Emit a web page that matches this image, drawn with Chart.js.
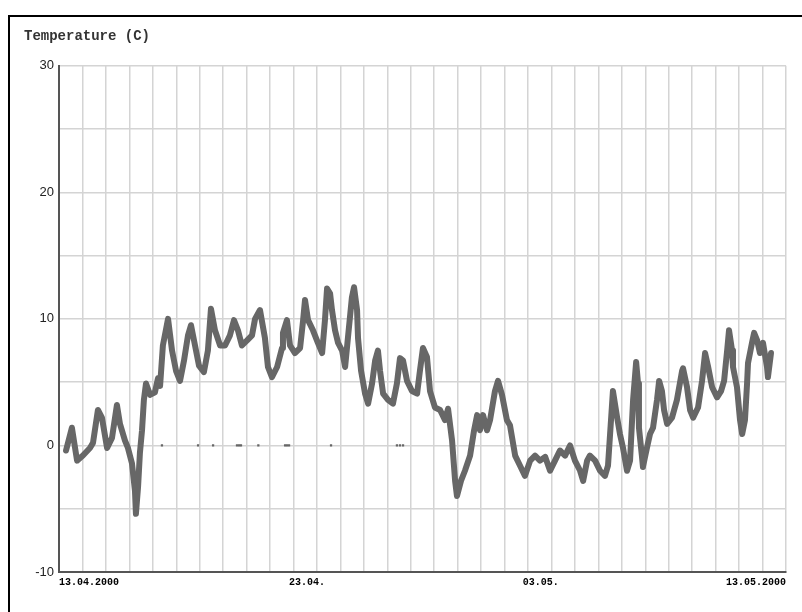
<!DOCTYPE html>
<html>
<head>
<meta charset="utf-8">
<script src="https://cdn.jsdelivr.net/npm/chart.js@4/dist/chart.umd.min.js"></script>
<style>
  html, body { margin: 0; padding: 0; background: #fff; overflow: hidden; }
  #frame { position: absolute; left: 8px; top: 15px; width: 900px; height: 700px; border: 2px solid #000; box-sizing: border-box; }
  #temp-chart { position: absolute; left: 0; top: 0; }
</style>
</head>
<body>
<div id="frame"></div>
<canvas id="temp-chart" width="802" height="612"></canvas>
<script>
// days since 13.04.2000 00:00 and temperature readings (C)
const tempDays = [
  0.30, 0.55, 0.77, 1.02, 1.32, 1.45, 1.66, 1.83, 2.05, 2.26, 2.47, 2.60, 2.81, 2.94, 3.11, 3.24, 3.28, 3.37, 3.45, 3.54,
  3.62, 3.71, 3.88, 4.09, 4.22, 4.31, 4.43, 4.65, 4.82, 4.99, 5.16, 5.33, 5.50, 5.63, 5.80, 5.97, 6.18, 6.35, 6.48, 6.65,
  6.87, 7.08, 7.29, 7.46, 7.63, 7.80, 8.02, 8.23, 8.36, 8.57, 8.78, 8.91, 9.08, 9.30, 9.51, 9.55, 9.72, 9.85, 10.06, 10.28,
  10.41, 10.49, 10.62, 10.83, 11.04, 11.22, 11.34, 11.43, 11.56, 11.64, 11.77, 11.90, 12.07, 12.20, 12.32, 12.49, 12.58, 12.71, 12.75, 12.88,
  13.05, 13.18, 13.35, 13.48, 13.60, 13.69, 13.82, 14.03, 14.24, 14.41, 14.54, 14.67, 14.84, 15.05, 15.27, 15.39, 15.52, 15.69, 15.82, 16.03,
  16.25, 16.46, 16.59, 16.76, 16.89, 16.97, 17.14, 17.31, 17.53, 17.70, 17.83, 17.95, 18.08, 18.25, 18.38, 18.59, 18.72, 18.89, 19.10, 19.23,
  19.45, 19.66, 19.87, 20.09, 20.30, 20.51, 20.73, 20.94, 21.15, 21.36, 21.58, 21.79, 22.00, 22.22, 22.35, 22.52, 22.64, 22.86, 23.07, 23.28,
  23.41, 23.62, 23.80, 23.92, 24.05, 24.22, 24.35, 24.48, 24.61, 24.69, 24.73, 24.86, 24.90, 25.07, 25.20, 25.33, 25.50, 25.59, 25.71, 25.80,
  25.93, 26.14, 26.35, 26.57, 26.61, 26.78, 26.91, 27.04, 27.25, 27.42, 27.55, 27.68, 27.85, 28.06, 28.23, 28.36, 28.49, 28.57, 28.70, 28.74,
  28.91, 29.04, 29.13, 29.25, 29.34, 29.38, 29.55, 29.64, 29.77, 29.89, 30.02, 30.19, 30.23, 30.36
];
const tempValues = [
  -0.4, 1.4, -1.2, -0.8, -0.2, 0.2, 2.8, 2.2, -0.2, 0.6, 3.2, 1.7, 0.4, -0.2, -1.4, -3.6, -5.4, -3.3, -0.6, 1.2,
  3.6, 4.9, 4.0, 4.2, 5.3, 4.7, 7.9, 10.0, 7.5, 5.9, 5.1, 6.7, 8.7, 9.5, 7.9, 6.3, 5.8, 7.5, 10.8, 9.1,
  7.9, 7.9, 8.7, 9.9, 9.1, 7.9, 8.3, 8.7, 10.0, 10.7, 8.5, 6.2, 5.4, 6.2, 7.7, 8.9, 9.9, 7.9, 7.3, 7.7,
  9.9, 11.5, 9.9, 9.1, 8.1, 7.3, 9.9, 12.4, 12.0, 10.7, 9.1, 8.1, 7.5, 6.2, 8.5, 11.7, 12.5, 10.7, 8.5, 5.9,
  4.1, 3.3, 4.9, 6.7, 7.5, 5.9, 4.1, 3.6, 3.3, 4.9, 6.9, 6.7, 5.1, 4.3, 4.1, 5.9, 7.7, 7.0, 4.3, 3.0,
  2.8, 2.0, 2.9, 0.4, -2.8, -4.0, -2.8, -2.0, -0.8, 1.2, 2.4, 1.2, 2.4, 1.2, 2.0, 4.3, 5.1, 4.0, 2.0, 1.6,
  -0.8, -1.6, -2.4, -1.2, -0.8, -1.2, -0.9, -2.0, -1.2, -0.4, -0.8, 0.0, -1.2, -2.0, -2.8, -1.2, -0.8, -1.2, -2.0, -2.4,
  -1.6, 4.3, 2.2, 0.9, -0.2, -2.0, -1.2, 3.6, 6.6, 4.9, 1.4, -0.9, -1.7, -0.2, 0.9, 1.4, 3.6, 5.1, 4.3, 2.8,
  1.7, 2.2, 3.6, 5.9, 6.1, 4.6, 2.8, 2.2, 3.0, 5.1, 7.3, 6.2, 4.6, 3.8, 4.3, 5.1, 7.5, 9.1, 7.5, 6.2,
  4.6, 2.0, 0.9, 2.0, 4.9, 6.5, 8.1, 8.9, 8.3, 7.3, 8.1, 6.2, 5.4, 7.3
];
// stray 0.0 readings
const zeroDays = [4.39, 5.93, 6.57, 7.59, 7.68, 7.76, 8.50, 9.64, 9.72, 9.81, 11.60, 14.41, 14.54, 14.67];

const xTickDays = [0, 10.58, 20.54, 31];
const xTickLabels = ["13.04.2000", "23.04.", "03.05.", "13.05.2000"];
const yTickValues = [-10, 0, 10, 20, 30];

const tempPoints = tempDays.map((d, i) => ({ x: d, y: tempValues[i] }));
const zeroPoints = zeroDays.map(d => ({ x: d, y: 0 }));

new Chart(document.getElementById("temp-chart").getContext("2d"), {
  type: 'line',
  data: {
    datasets: [
      {
        data: tempPoints,
        borderColor: '#676767',
        borderWidth: 6,
        borderJoinStyle: 'round',
        borderCapStyle: 'round',
        pointRadius: 0,
        tension: 0
      },
      {
        type: 'scatter',
        data: zeroPoints,
        pointStyle: 'rect',
        pointRadius: 1.6,
        backgroundColor: '#666666',
        borderColor: '#666666',
        borderWidth: 0
      }
    ]
  },
  options: {
    responsive: false,
    animation: false,
    layout: { padding: { left: 24, top: 28, right: 16, bottom: 8 } },
    plugins: {
      legend: { display: false },
      tooltip: { enabled: false },
      title: {
        display: true,
        text: 'Temperature (C)',
        align: 'start',
        color: '#333',
        font: { family: 'Liberation Mono', size: 14, weight: 'bold', lineHeight: 1.2 },
        padding: { top: 0, bottom: 21 }
      }
    },
    scales: {
      x: {
        type: 'linear',
        min: 0,
        max: 31,
        afterBuildTicks: scale => {
          const vals = [];
          for (let d = 0; d <= 31; d++) vals.push(d);
          xTickDays.forEach(v => { if (!vals.includes(v)) vals.push(v); });
          scale.ticks = vals.sort((a, b) => a - b).map(v => ({ value: v }));
        },
        afterFit: scale => { scale.height = 32; },
        ticks: {
          autoSkip: false,
          maxRotation: 0,
          align: 'inner',
          padding: 4,
          color: '#000',
          font: { family: 'Liberation Mono', size: 10, weight: 'bold' },
          callback: v => {
            const i = xTickDays.indexOf(v);
            return i >= 0 ? xTickLabels[i] : '';
          }
        },
        grid: {
          drawTicks: false,
          lineWidth: 1.5,
          color: ctx => Number.isInteger(ctx.tick && ctx.tick.value) ? '#d4d4d4' : 'rgba(0,0,0,0)'
        },
        border: { color: '#555', width: 2 }
      },
      y: {
        min: -10,
        max: 30,
        afterBuildTicks: scale => {
          const vals = [];
          for (let v = -10; v <= 30; v += 5) vals.push({ value: v });
          scale.ticks = vals;
        },
        afterFit: scale => { scale.width = 35; },
        ticks: {
          padding: 5,
          color: '#222',
          font: { family: 'Liberation Sans', size: 13 },
          callback: v => yTickValues.includes(v) ? String(v) : ''
        },
        grid: { drawTicks: false, lineWidth: 1.5, color: '#d4d4d4' },
        border: { color: '#555', width: 2 }
      }
    }
  }
});
</script>
</body>
</html>
